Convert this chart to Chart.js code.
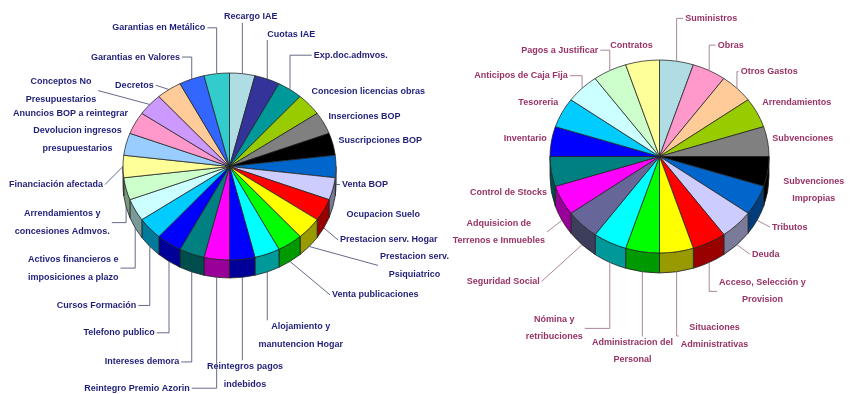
<!DOCTYPE html>
<html>
<head>
<meta charset="utf-8">
<script src="https://cdn.jsdelivr.net/npm/chart.js@4.4.1/dist/chart.umd.min.js"></script>
<style>
  html, body { margin: 0; padding: 0; background: #fff; }
  body { width: 851px; height: 394px; position: relative; overflow: hidden; }
  .pie { position: absolute; top: 0; height: 394px; }
  #left { left: 0; width: 460px; }
  #right { left: 430px; width: 421px; }
</style>
</head>
<body>
<div class="pie" id="left"><canvas id="ingresos"></canvas></div>
<div class="pie" id="right"><canvas id="gastos"></canvas></div>
<script>
// Ingresos: one slice per concept, clockwise from 12 o'clock
const ingresosLabels = [
  'Recargo IAE', 'Cuotas IAE', 'Exp.doc.admvos.', 'Concesion licencias obras',
  'Inserciones BOP', 'Suscripciones BOP', 'Venta BOP', 'Ocupacion Suelo',
  'Prestacion serv. Hogar', ['Prestacion serv.', 'Psiquiatrico'], 'Venta publicaciones',
  ['Alojamiento y', 'manutencion Hogar'], ['Reintegros pagos', 'indebidos'],
  'Reintegro Premio Azorin', 'Intereses demora', 'Telefono publico', 'Cursos Formación',
  ['Activos financieros e', 'imposiciones a plazo'], ['Arrendamientos y', 'concesiones Admvos.'],
  'Financiación afectada', ['Devolucion ingresos', 'presupuestarios'], 'Anuncios BOP a reintegrar',
  ['Conceptos No', 'Presupuestarios'], 'Decretos', 'Garantias en Valores', 'Garantias en Metálico'
];
const ingresosValues = [1, 1, 1, 1, 1, 1, 1, 1, 1, 1, 1, 1, 1, 1, 1, 1, 1, 1, 1, 1, 1, 1, 1, 1, 1, 1];
const ingresosColors = [
  '#B0DCE4', '#333399', '#009999', '#99CC00', '#808080', '#000000', '#0066CC', '#CCCCFF',
  '#FF0000', '#FFFF00', '#00FF00', '#00FFFF', '#0000FF', '#FF00FF', '#008080', '#0000FF',
  '#00CCFF', '#CCFFFF', '#CCFFCC', '#FFFF99', '#99CCFF', '#FF99CC', '#CC99FF', '#FFCC99',
  '#3366FF', '#33CCCC'
];

// Gastos
const gastosLabels = [
  'Suministros', 'Obras', 'Otros Gastos', 'Arrendamientos', 'Subvenciones',
  ['Subvenciones', 'Impropias'], 'Tributos', 'Deuda', ['Acceso, Selección y', 'Provision'],
  ['Situaciones', 'Administrativas'], ['Administracion del', 'Personal'], ['Nómina y', 'retribuciones'],
  'Seguridad Social', ['Adquisicion de', 'Terrenos e Inmuebles'], 'Control de Stocks',
  'Inventario', 'Tesoreria', 'Anticipos de Caja Fija', 'Pagos a Justificar', 'Contratos'
];
const gastosValues = [1, 1, 1, 1, 1, 1, 1, 1, 1, 1, 1, 1, 1, 1, 1, 1, 1, 1, 1, 1];
const gastosColors = [
  '#B0DCE4', '#FF99CC', '#FFCC99', '#99CC00', '#808080', '#000000', '#0066CC', '#CCCCFF',
  '#FF0000', '#FFFF00', '#00FF00', '#00FFFF', '#666699', '#FF00FF', '#008080', '#0000FF',
  '#00CCFF', '#CCFFFF', '#CCFFCC', '#FFFF99'
];

// hand-placed label shifts (px) away from the default outside-end spot
const ingresosLabelShift = [
  [4, -42], [12, -31], [34, -22], [9, -3], [0, 0], [-3, 0], [-4, 18], [5, 4],
  [13, 5], [72, 3], [55, 21], [15, 41], [-3, 74], [-72, 96], [-33, 76], [-24, 59],
  [-16, 49], [-13, 29], [-8, 10], [-10, 18], [4, 1], [-5, -3], [-55, 2], [-18, 8],
  [-37, -8], [-51, -31]
];
const gastosLabelShift = [
  [29, -28], [11, -12], [5, -6], [0, -3], [-5, -1], [6, -5], [8, 0], [12, -1],
  [29, 8], [31, 41], [-2, 56], [-38, 45], [-46, 26], [-13, 1], [5, -1], [5, -1],
  [3, -3], [-21, -2], [-28, -7], [-6, -1]
];

function shade(hex, f) {
  const n = parseInt(hex.slice(1), 16);
  const r = Math.round(((n >> 16) & 255) * f);
  const g = Math.round(((n >> 8) & 255) * f);
  const b = Math.round((n & 255) * f);
  return `rgb(${r},${g},${b})`;
}

// tilted pie with an extruded rim, plus outside labels with leader lines
function pie3d(cfg) {
  return {
    id: 'pie3d',
    beforeDatasetsDraw(chart) {
      const ctx = chart.ctx;
      const arcs = chart.getDatasetMeta(0).data;
      const colors = chart.data.datasets[0].backgroundColor;
      const { x, y, outerRadius: r } = arcs[0].getProps(['x', 'y', 'outerRadius'], true);
      const ry = r * cfg.tilt;

      ctx.save();
      ctx.lineWidth = 0.8;
      ctx.strokeStyle = '#222';
      arcs.forEach((arc, i) => {
        const { startAngle, endAngle } = arc.getProps(['startAngle', 'endAngle'], true);
        const a1 = Math.max(startAngle, 0);
        const a2 = Math.min(endAngle, Math.PI);
        if (a2 <= a1) return;
        ctx.beginPath();
        ctx.ellipse(x, y, r, ry, 0, a1, a2);
        ctx.ellipse(x, y + cfg.depth, r, ry, 0, a2, a1, true);
        ctx.closePath();
        ctx.fillStyle = shade(colors[i], 0.6);
        ctx.fill();
        ctx.stroke();
      });
      ctx.restore();

      // squash the top face
      ctx.save();
      ctx.translate(x, y);
      ctx.scale(1, cfg.tilt);
      ctx.translate(-x, -y);
    },
    afterDatasetsDraw(chart) {
      const ctx = chart.ctx;
      ctx.restore();

      const arcs = chart.getDatasetMeta(0).data;
      const { x, y, outerRadius: r } = arcs[0].getProps(['x', 'y', 'outerRadius'], true);
      const ry = r * cfg.tilt;
      const gap = 10;

      ctx.save();
      ctx.font = 'bold 9px "Liberation Sans", Arial, sans-serif';
      ctx.textAlign = 'center';
      ctx.textBaseline = 'middle';
      ctx.fillStyle = cfg.textColor;
      ctx.strokeStyle = cfg.lineColor;
      ctx.lineWidth = 0.9;

      arcs.forEach((arc, i) => {
        const { startAngle, endAngle } = arc.getProps(['startAngle', 'endAngle'], true);
        const m = (startAngle + endAngle) / 2;
        const dx = Math.cos(m), dy = Math.sin(m);
        const rimX = x + r * dx;
        const rimY = y + ry * dy + (dy > 0.01 ? cfg.depth : 0);

        const lines = [].concat(chart.data.labels[i]);
        const w = Math.max(...lines.map(t => ctx.measureText(t).width));
        const h = (lines.length - 1) * cfg.lineHeight + 10;
        const [sx, sy] = cfg.shift[i];
        const lx = rimX + (gap + w / 2) * dx + sx;
        const ly = rimY + (gap + h / 2) * dy + sy;

        const box = { l: lx - w / 2, r: lx + w / 2, t: ly - h / 2, b: ly + h / 2 };
        let ax, ay, side = true;
        if (rimX < box.l - 2) { ax = box.l - 2; ay = ly; }
        else if (rimX > box.r + 2) { ax = box.r + 2; ay = ly; }
        else { ax = rimX; ay = rimY < box.t ? box.t - 1 : box.b + 1; side = false; }

        if (Math.hypot(ax - rimX, ay - rimY) > 14) {
          ctx.beginPath();
          ctx.moveTo(rimX, rimY);
          if (side && Math.abs(ay - rimY) > Math.abs(ax - rimX)) ctx.lineTo(rimX, ay);
          ctx.lineTo(ax, ay);
          ctx.stroke();
        }

        const top = ly - (lines.length - 1) * cfg.lineHeight / 2;
        lines.forEach((t, k) => ctx.fillText(t, lx, top + k * cfg.lineHeight));
      });
      ctx.restore();
    }
  };
}

function padFor(cx, cy, r, W, H, bw) {
  const half = r + bw / 2;
  return { left: cx - half, right: W - cx - half, top: cy - half, bottom: H - cy - half };
}

function makePie(id, labels, values, colors, geo, style) {
  const bw = 0.8;
  return new Chart(document.getElementById(id), {
    type: 'pie',
    data: {
      labels: labels,
      datasets: [{
        data: values,
        backgroundColor: colors,
        borderColor: '#222',
        borderWidth: bw,
        hoverOffset: 0
      }]
    },
    options: {
      responsive: true,
      maintainAspectRatio: false,
      animation: false,
      events: [],
      layout: { padding: padFor(geo.cx, geo.cy, geo.r, geo.W, 394, bw) },
      plugins: { legend: { display: false }, tooltip: { enabled: false } }
    },
    plugins: [pie3d(style)]
  });
}

makePie('ingresos', ingresosLabels, ingresosValues, ingresosColors,
  { cx: 229.5, cy: 166.5, r: 106.5, W: 460 },
  { tilt: 0.878, depth: 18, lineHeight: 18, textColor: '#1F1F7A', lineColor: '#55587A', shift: ingresosLabelShift });

makePie('gastos', gastosLabels, gastosValues, gastosColors,
  { cx: 229.5, cy: 156.5, r: 109.5, W: 421 },
  { tilt: 0.881, depth: 20, lineHeight: 17, textColor: '#993366', lineColor: '#A07890', shift: gastosLabelShift });
</script>
</body>
</html>
